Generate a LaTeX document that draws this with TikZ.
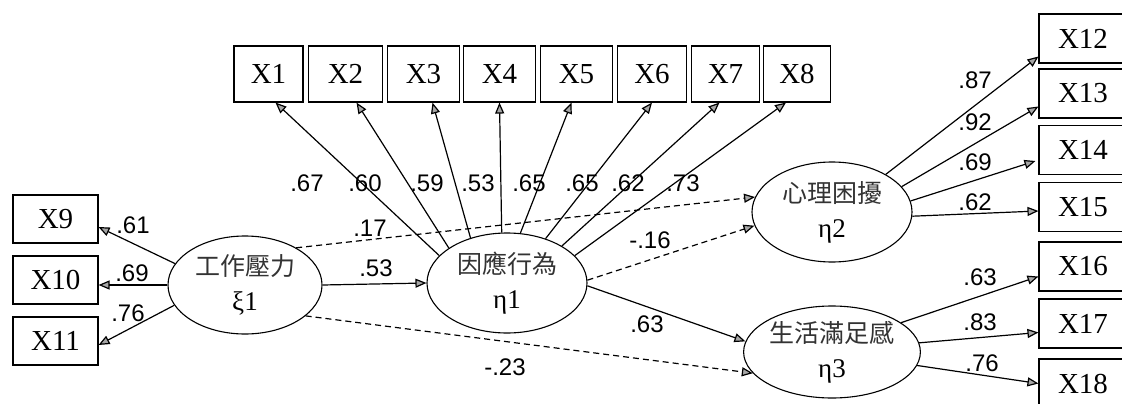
\documentclass[tikz,border=0pt]{standalone}
\usepackage{fontspec}
\setmainfont{Liberation Serif}
\newfontfamily\numfont{Liberation Sans}
\newfontfamily\cjk{Noto Sans CJK TC}
\usetikzlibrary{arrows.meta,shapes.geometric}
\begin{document}
\begin{tikzpicture}[x=1pt,y=-1pt,
 obs/.style={draw, line width=1.1pt, minimum width=70pt, minimum height=56pt, inner sep=0pt, font=\fontsize{29}{29}\selectfont},
 obsl/.style={obs, minimum width=85pt, minimum height=48pt},
 obsr/.style={obs, minimum width=88pt, minimum height=49pt},
 lat/.style={draw, ellipse, line width=1.1pt, minimum width=160pt, minimum height=100pt, inner sep=0pt, align=center, font=\fontsize{27}{35}\selectfont},
 cjtext/.style={},
 pth/.style={line width=1.2pt, -{Triangle[length=11pt,width=9pt,fill=gray!70]}},
 dpth/.style={pth, dash pattern=on 6pt off 4pt},
 lab/.style={font=\numfont\fontsize{24}{24}\selectfont, inner sep=0pt}
]
\useasboundingbox (0,0) rectangle (1122,404);
% observed variables
\node[obsl] (x9)  at (55.5,219) {X9};
\node[obsl] (x10) at (55.5,280) {X10};
\node[obsl] (x11) at (55.5,341) {X11};
\node[obs, minimum width=69pt] (x1) at (268.5,74) {X1};
\node[obs, minimum width=74pt] (x2) at (345.5,74) {X2};
\node[obs, minimum width=72pt] (x3) at (423.5,74) {X3};
\node[obs, minimum width=72pt] (x4) at (499.5,74) {X4};
\node[obs, minimum width=72pt] (x5) at (576.5,74) {X5};
\node[obs, minimum width=69pt] (x6) at (652,74) {X6};
\node[obs, minimum width=68pt] (x7) at (725.5,74) {X7};
\node[obs, minimum width=67pt] (x8) at (797,74) {X8};
\node[obsr] (x12) at (1083,38.5) {X12};
\node[obsr] (x13) at (1083,93.5) {X13};
\node[obsr] (x14) at (1083,150) {X14};
\node[obsr] (x15) at (1083,207) {X15};
\node[obsr] (x16) at (1083,266.5) {X16};
\node[obsr] (x17) at (1083,323.5) {X17};
\node[obsr] (x18) at (1083,383.5) {X18};
% latent variables
\node[lat, minimum width=154pt, minimum height=98pt] (xi) at (245,285) {{\cjk\fontsize{25}{35}\selectfont\color{black!80}工作壓力}\\ξ1};
\node[lat] (e1) at (507,283) {{\cjk\fontsize{25}{35}\selectfont\color{black!80}因應行為}\\η1};
\node[lat] (e2) at (832,212) {{\cjk\fontsize{25}{35}\selectfont\color{black!80}心理困擾}\\η2};
\node[lat, minimum height=92pt] (e3) at (832,352) {{\cjk\fontsize{25}{35}\selectfont\color{black!80}生活滿足感}\\η3};
% xi1 indicators
\draw[pth] (xi.163) -- ([yshift=-8pt]x9.east);
\draw[pth] (xi.west) -- (xi.west -| x10.east);
\draw[pth] (xi.196) -- ([yshift=-4pt]x11.east);
% eta1 indicators
\draw[pth] (e1.158) -- ([xshift=7pt]x1.south);
\draw[pth] (e1.149) -- ([xshift=11pt]x2.south);
\draw[pth] (e1.129) -- ([xshift=9pt]x3.south);
\draw[pth] (e1.96)  -- (x4.south);
\draw[pth] (e1.75)  -- ([xshift=-5pt]x5.south);
\draw[pth] (e1.49)  -- (x6.south);
\draw[pth] (e1.34)  -- ([xshift=-6pt]x7.south);
\draw[pth] (e1.22)  -- ([xshift=-11pt]x8.south);
% eta2 indicators
\draw[pth] (e2.35) -- ([yshift=-18pt]x12.west);
\draw[pth] (e2.20) -- ([yshift=-13pt]x13.west);
\draw[pth] (e2.8)  -- ([yshift=-11pt,xshift=-3pt]x14.west);
\draw[pth] (e2.-3) -- ([yshift=-4pt]x15.west);
% eta3 indicators
\draw[pth] (e3.23) -- ([yshift=-10pt]x16.west);
\draw[pth] (e3.6)  -- ([yshift=-9pt]x17.west);
\draw[pth] (e3.-9) -- (x18.west);
% structural paths
\draw[pth] (xi.east) -- (e1.west);
\draw[dpth] (xi.36) -- (e2.169);
\draw[dpth] (xi.-27) -- (e3.195);
\draw[dpth] (e1.2) -- (e2.190);
\draw[pth] (e1.-2) -- (e3.173);
% labels
\node[lab] (l9)  at (133,225) {.61};
\node[lab] (l10) at (132,273) {.69};
\node[lab] (l11) at (128,313) {.76};
\node[lab] (l1) at (307,183) {.67};
\node[lab] (l2) at (365,183) {.60};
\node[lab] (l3) at (427,183) {.59};
\node[lab] (l4) at (478,183) {.53};
\node[lab] (l5) at (529,183) {.65};
\node[lab] (l6) at (582,183) {.65};
\node[lab] (l7) at (628,183) {.62};
\node[lab] (l8) at (683,183) {.73};
\node[lab] (l12) at (975,80) {.87};
\node[lab] (l13) at (975,122) {.92};
\node[lab] (l14) at (975,162) {.69};
\node[lab] (l15) at (975,202) {.62};
\node[lab] (l16) at (980,277) {.63};
\node[lab] (l17) at (980,322) {.83};
\node[lab] (l18) at (982,363) {.76};
\node[lab] (s1) at (370,228) {.17};
\node[lab] (s2) at (376,268) {.53};
\node[lab] (s3) at (650,240) {-.16};
\node[lab] (s4) at (647,324) {.63};
\node[lab] (s5) at (505,367) {-.23};
\end{tikzpicture}
\end{document}
